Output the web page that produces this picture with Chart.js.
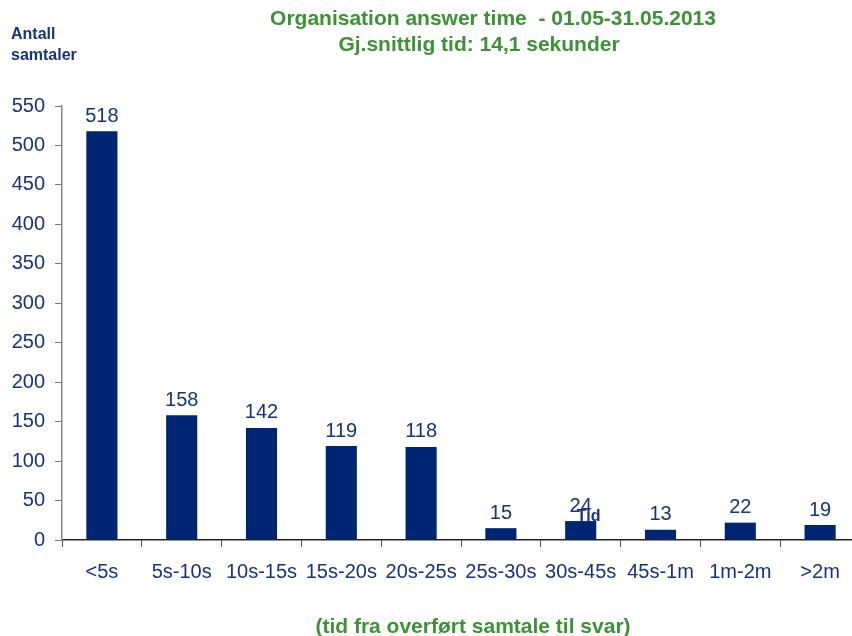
<!DOCTYPE html>
<html>
<head>
<meta charset="utf-8">
<script src="https://cdn.jsdelivr.net/npm/chart.js@4/dist/chart.umd.min.js"></script>
<style>
  html, body { margin:0; padding:0; background:#fff; overflow:hidden; }
  #wrap { width:852px; height:636px; overflow:hidden; }
</style>
</head>
<body>
<div id="wrap"><canvas id="myChart" width="862" height="636"></canvas></div>
<script>
// data
var categories = ['<5s','5s-10s','10s-15s','15s-20s','20s-25s','25s-30s','30s-45s','45s-1m','1m-2m','>2m'];
var antall     = [518, 158, 142, 119, 118, 15, 24, 13, 22, 19];
var yTicks     = [0, 50, 100, 150, 200, 250, 300, 350, 400, 450, 500, 550];

var titleLines = ['Organisation answer time  - 01.05-31.05.2013', 'Gj.snittlig tid: 14,1 sekunder'];
var yTitle     = ['Antall', 'samtaler'];
var xTitle     = '(tid fra overført samtale til svar)';

var navy  = '#002673';
var txt   = '#15337f';
var green = '#3b9335';

var extraText = {
  id: 'extraText',
  afterDatasetsDraw: function(chart){
    var ctx = chart.ctx;
    var meta = chart.getDatasetMeta(0);
    ctx.save();
    // value labels
    ctx.font = '20px Arial, "Liberation Sans"';
    ctx.fillStyle = txt;
    ctx.textAlign = 'center';
    ctx.textBaseline = 'middle';
    meta.data.forEach(function(bar, i){
      ctx.fillText(antall[i], bar.x, bar.y - 15);
    });
    // stray "Tid" label sitting on the 30s-45s bar
    var xs = chart.scales.x, ys = chart.scales.y;
    ctx.font = 'bold 16px Arial, "Liberation Sans"';
    ctx.fillText('Tid', xs.getPixelForValue(6) + 8, ys.getPixelForValue(antall[6]) - 4);
    ctx.restore();
  },
  afterDraw: function(chart){
    var ctx = chart.ctx;
    ctx.save();
    ctx.textBaseline = 'middle';
    ctx.textAlign = 'center';
    ctx.fillStyle = green;
    ctx.font = 'bold 21px Arial, "Liberation Sans"';
    ctx.fillText(titleLines[0], 493, 19);
    ctx.fillText(titleLines[1], 479, 45);
    ctx.font = 'bold 21px Arial, "Liberation Sans"';
    ctx.fillText(xTitle, 473, 627);
    ctx.textAlign = 'left';
    ctx.fillStyle = txt;
    ctx.font = 'bold 16px Arial, "Liberation Sans"';
    ctx.fillText(yTitle[0], 11, 35);
    ctx.fillText(yTitle[1], 11, 56);
    ctx.restore();
  }
};

var ctx = document.getElementById('myChart').getContext('2d');
var chart = new Chart(ctx, {
  type: 'bar',
  data: {
    labels: categories,
    datasets: [{
      data: antall,
      backgroundColor: navy,
      borderWidth: 0,
      barPercentage: 0.39,
      categoryPercentage: 1.0
    }]
  },
  options: {
    responsive: false,
    animation: false,
    layout: { padding: { top: 106, right: 2, left: 0, bottom: 0 } },
    plugins: {
      legend: { display: false },
      tooltip: { enabled: false }
    },
    scales: {
      x: {
        afterFit: function(s){ s.height = 96; },
        grid: { offset: true, drawOnChartArea: false, drawTicks: true, tickLength: 7, color: '#555' },
        border: { color: '#222', width: 1.5 },
        ticks: { color: txt, font: { family: 'Arial, "Liberation Sans"', size: 20 }, padding: 13, maxRotation: 0, autoSkip: false }
      },
      y: {
        min: 0, max: 550,
        afterFit: function(s){ s.width = 62; },
        afterBuildTicks: function(s){ s.ticks = yTicks.map(function(v){ return {value: v}; }); },
        grid: { drawOnChartArea: false, drawTicks: true, tickLength: 7, color: '#777' },
        border: { color: '#888', width: 1.5 },
        ticks: { color: txt, font: { family: 'Arial, "Liberation Sans"', size: 20 }, padding: 10 }
      }
    }
  },
  plugins: [extraText]
});
</script>
</body>
</html>
